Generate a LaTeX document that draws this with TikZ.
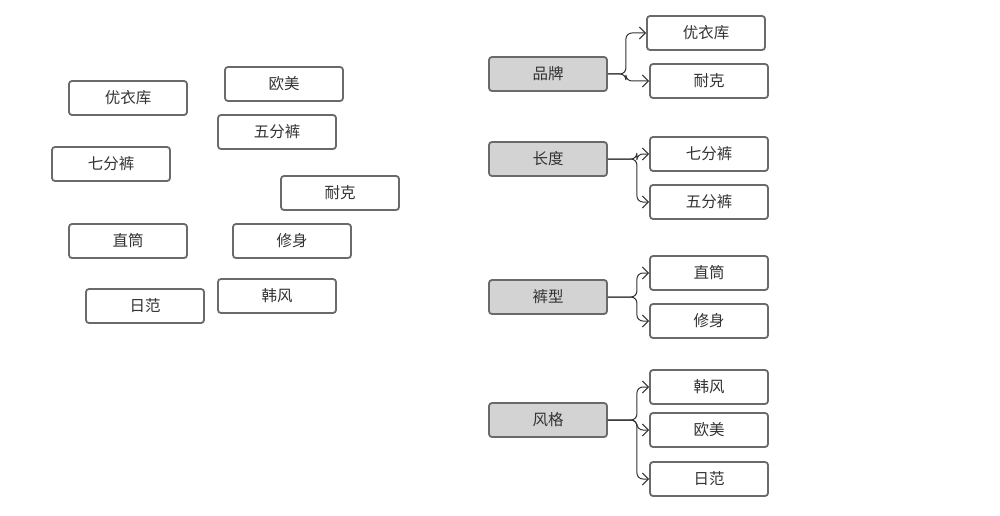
\documentclass[tikz,border=0pt]{standalone}
\usepackage{fontspec}
\setmainfont{Noto Sans CJK SC}
\usetikzlibrary{arrows.meta}
\definecolor{boxline}{HTML}{6A6A6A}
\definecolor{boxgray}{HTML}{D3D3D3}
\definecolor{txt}{HTML}{333333}

\tikzset{
  tag/.style={draw=boxline, line width=1.8pt, rounded corners=3pt, fill=white,
    minimum width=118pt, minimum height=34pt, text=txt,
    font=\fontsize{15.5pt}{18pt}\selectfont},
  group/.style={tag, fill=boxgray},
  link/.style={draw=txt, line width=1pt, rounded corners=6pt,
    -{Straight Barb[length=6pt,width=12pt,line width=1pt]}}
}

\begin{document}
\begin{tikzpicture}[x=1pt,y=-1pt]
% page size of the reference
\useasboundingbox (0,0) rectangle (1000,516);

% loose tags, not sorted yet
\foreach \name/\x/\y/\word in {u1/128/98/优衣库, u2/284/84/欧美, u3/277/132/五分裤,
  u4/111/164/七分裤, u5/340/193/耐克, u6/128/241/直筒, u7/292/241/修身,
  u8/145/306/日范, u9/277/296/韩风}
  \node[tag] (\name) at (\x,\y) {\word};

% groups
\node[group] (brand) at (548,74) {品牌};
\node[group] (len) at (548,159) {长度};
\node[group] (cut) at (548,297) {裤型};
\node[group] (look) at (548,420) {风格};

% sorted tags
\node[tag] (brand1) at (706,33) {优衣库};
\node[tag] (brand2) at (709,81) {耐克};
\node[tag] (len1) at (709,154) {七分裤};
\node[tag] (len2) at (709,202) {五分裤};
\node[tag] (cut1) at (709,273) {直筒};
\node[tag] (cut2) at (709,321) {修身};
\node[tag] (look1) at (709,387) {韩风};
\node[tag] (look2) at (709,430) {欧美};
\node[tag] (look3) at (709,479) {日范};

% brackets from each group to its tags
\foreach \kid in {brand1,brand2}
  \draw[link] (brand.east) -- ++(18,0) |- (\kid.west);
\foreach \kid in {len1,len2}
  \draw[link] (len.east) -- ++(29,0) |- (\kid.west);
\foreach \kid in {cut1,cut2}
  \draw[link] (cut.east) -- ++(29,0) |- (\kid.west);
\foreach \kid in {look1,look2,look3}
  \draw[link] (look.east) -- ++(29,0) |- (\kid.west);

\end{tikzpicture}
\end{document}
